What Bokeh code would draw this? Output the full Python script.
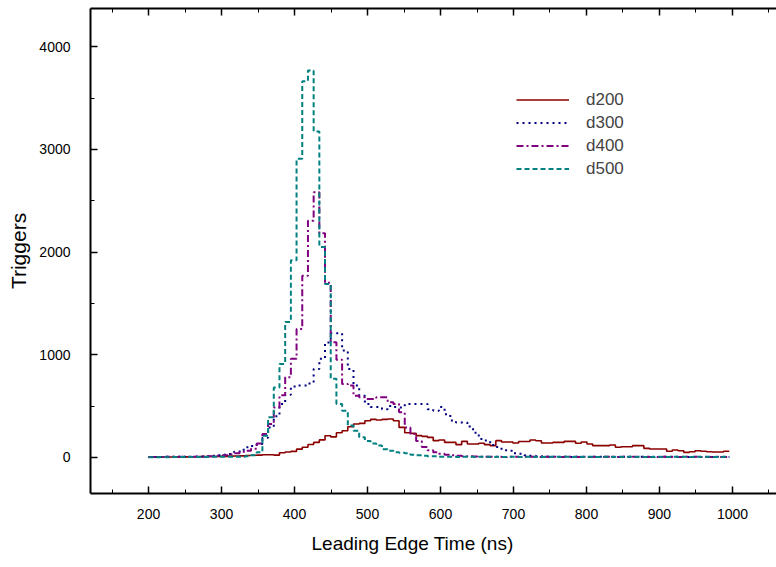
from bokeh.plotting import figure
from bokeh.models import (Range1d, SingleIntervalTicker, LinearAxis, Legend,
                          LegendItem, Title)
from bokeh.embed import file_html
from bokeh.resources import INLINE

# ---- data (histogram bins: start 200 ns, width 7.8 ns) ----
bin_start = 200.0
bin_width = 7.8

d200 = [2, 3, 3, 4, 4, 5, 5, 6, 6, 7, 8, 8, 10, 10, 12, 14, 15, 18, 20,
        22, 25, 25, 22, 45, 52, 58, 80, 98, 125, 146, 170, 211, 200, 240, 260,
        299, 325, 331, 357, 370, 364, 370, 374, 357, 292, 240, 234, 212, 205,
        195, 163, 169, 146, 146, 124, 156, 130, 130, 137, 124, 114, 163, 150,
        150, 140, 155, 155, 169, 162, 140, 140, 146, 146, 156, 156, 137, 150,
        130, 114, 114, 114, 120, 98, 104, 104, 114, 114, 88, 81, 81, 81, 59,
        72, 65, 49, 55, 65, 59, 55, 52, 52, 59]

d300 = [3, 4, 3, 5, 5, 6, 5, 7, 8, 9, 12, 15, 20, 25, 33, 55, 75, 98, 110,
        130, 190, 290, 400, 520, 610, 690, 700, 700, 720, 860, 960, 1120, 1210,
        1210, 1040, 860, 700, 600, 520, 490, 490, 470, 500, 490, 487, 520, 520,
        520, 520, 470, 455, 490, 420, 360, 340, 340, 300, 240, 180, 165, 120,
        100, 70, 65, 40, 35, 20, 15, 12, 10, 8, 6, 5, 5, 4, 6, 5, 4, 5, 5, 3,
        5, 4, 6, 5, 4, 5, 3, 5, 4, 5, 6, 4, 5, 3, 5, 4, 5, 4, 3, 5, 4]

d400 = [3, 4, 3, 5, 5, 5, 6, 5, 7, 8, 10, 12, 15, 20, 30, 40, 55, 65, 85,
        135, 228, 325, 487, 605, 780, 960, 1250, 1770, 2306, 2582, 2183, 1700,
        1121, 950, 715, 700, 600, 585, 569, 569, 585, 585, 536, 520, 439, 292,
        228, 160, 100, 70, 50, 35, 25, 20, 15, 12, 10, 8, 6, 5, 5, 6, 4, 5, 5,
        4, 6, 5, 4, 5, 3, 5, 4, 6, 5, 4, 5, 3, 5, 4, 5, 6, 4, 5, 3, 5, 4, 5, 4,
        3, 5, 4, 5, 4, 6, 4, 5, 4, 3, 5, 4, 4]

d500 = [2, 2, 3, 2, 3, 3, 3, 3, 4, 4, 4, 5, 5, 5, 5, 5, 6, 10, 20, 50, 210,
        390, 680, 910, 1320, 1920, 2910, 3665, 3770, 3175, 2050, 1690, 765, 520,
        455, 310, 260, 195, 160, 135, 115, 80, 65, 50, 45, 40, 25, 20, 15, 12,
        10, 6, 5, 5, 4, 6, 5, 4, 5, 5, 3, 5, 4, 6, 5, 4, 5, 3, 5, 4, 5, 6, 4,
        5, 3, 5, 4, 5, 4, 3, 5, 4, 5, 4, 6, 4, 5, 4, 3, 5, 4, 4, 5, 4, 5, 3, 5,
        4, 5, 4, 4, 5]

series_names = ["d200", "d300", "d400", "d500"]
series_values = [d200, d300, d400, d500]
series_colors = ["#8b0000", "#000080", "#800080", "#008080"]
series_dash = ["solid", "2 4", "7 3 2 3", "5 3"]
series_width = [1.6, 2.0, 2.0, 2.0]

x_ticks_interval = 100
y_ticks_interval = 1000
x_top_labels = {v: "" for v in range(0, 1200, 100)}

FONT = "Liberation Sans"

p = figure(width=776, height=567, output_backend="svg", toolbar_location=None,
           x_range=Range1d(120.5, 1060.3), y_range=Range1d(-352, 4373),
           min_border_left=90, min_border_right=0, min_border_top=8,
           min_border_bottom=74)
p.outline_line_color = None
p.xgrid.visible = False
p.ygrid.visible = False
p.background_fill_color = "white"
p.border_fill_color = "white"

renderers = []
for name, vals, col, dash, lw in zip(series_names, series_values, series_colors,
                                     series_dash, series_width):
    n = len(vals)
    edges = [bin_start + bin_width * i for i in range(n + 1)]
    ys = list(vals) + [vals[-1]]
    r = p.step(x=edges, y=ys, mode="after", line_color=col, line_width=lw,
               line_dash=dash)
    renderers.append(r)

xt = SingleIntervalTicker(interval=x_ticks_interval, num_minor_ticks=2)
yt = SingleIntervalTicker(interval=y_ticks_interval, num_minor_ticks=2)

for ax in p.xaxis:
    ax.ticker = xt
    ax.major_tick_in = 7
    ax.major_tick_out = 0
    ax.minor_tick_in = 4
    ax.minor_tick_out = 0
    ax.axis_line_width = 2
    ax.major_tick_line_width = 1.5
    ax.major_label_standoff = 15
    ax.major_label_text_font = FONT
    ax.major_label_text_font_size = "14px"
    ax.major_label_text_color = "black"

for ax in p.yaxis:
    ax.ticker = yt
    ax.major_tick_in = 7
    ax.major_tick_out = 0
    ax.minor_tick_in = 4
    ax.minor_tick_out = 0
    ax.axis_line_width = 2
    ax.major_tick_line_width = 1.5
    ax.major_label_standoff = 20
    ax.major_label_text_font = FONT
    ax.major_label_text_font_size = "14px"
    ax.major_label_text_color = "black"
    ax.axis_label = "Triggers"
    ax.axis_label_text_font = FONT
    ax.axis_label_text_font_size = "21px"
    ax.axis_label_text_font_style = "normal"
    ax.axis_label_text_color = "black"
    ax.axis_label_standoff = 6

top = LinearAxis(ticker=xt, major_tick_in=7, major_tick_out=0, minor_tick_in=4,
                 minor_tick_out=0, axis_line_width=2, major_tick_line_width=1.5,
                 major_label_overrides=x_top_labels,
                 major_label_text_font_size="1px", major_label_standoff=0)
p.add_layout(top, "above")

xtitle = Title(text="Leading Edge Time (ns)", align="left", offset=221,
               text_font=FONT, text_font_size="19px", text_font_style="normal",
               text_color="black", standoff=19)
p.add_layout(xtitle, "below")

legend = Legend(items=[LegendItem(label=n, renderers=[r])
                       for n, r in zip(series_names, renderers)],
                location=(426, 313), glyph_width=53, glyph_height=23,
                spacing=0, padding=0, margin=0, label_standoff=17,
                border_line_color=None, background_fill_alpha=0,
                label_text_font=FONT, label_text_font_size="17px",
                label_height=23)
p.add_layout(legend)

open("out.html", "w").write(file_html(p, INLINE))
